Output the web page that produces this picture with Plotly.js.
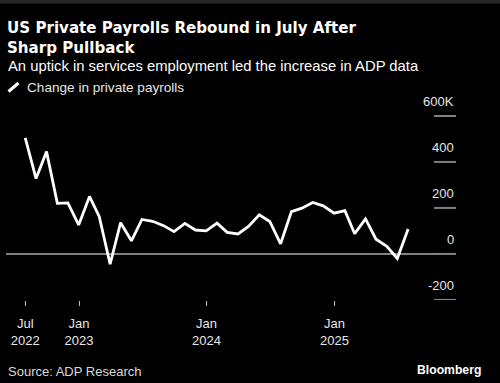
<!DOCTYPE html>
<html>
<head>
<meta charset="utf-8">
<script src="https://cdn.plot.ly/plotly-3.0.1.min.js"></script>
<style>html,body{margin:0;padding:0;background:#000;}#chart{width:500px;height:383px;}</style>
</head>
<body>
<div id="chart"></div>
<script>
// Month-end dates, Jul 2022 - Jul 2025
const dates = [
  '2022-07-31','2022-08-31','2022-09-30','2022-10-31','2022-11-30','2022-12-31',
  '2023-01-31','2023-02-28','2023-03-31','2023-04-30','2023-05-31','2023-06-30',
  '2023-07-31','2023-08-31','2023-09-30','2023-10-31','2023-11-30','2023-12-31',
  '2024-01-31','2024-02-29','2024-03-31','2024-04-30','2024-05-31','2024-06-30',
  '2024-07-31','2024-08-31','2024-09-30','2024-10-31','2024-11-30','2024-12-31',
  '2025-01-31','2025-02-28','2025-03-31','2025-04-30','2025-05-31','2025-06-30',
  '2025-07-31'
];
// Change in private payrolls (thousands)
const payrolls = [
  505, 328, 445, 220, 222, 126,
  250, 162, -45, 136, 57, 150,
  142, 123, 97, 133, 104, 100,
  134, 94, 87, 120, 170, 141,
  44, 184, 199, 224, 209, 177,
  188, 88, 152, 64, 33, -20,
  108
];
const xTickVals = ['2022-07-31','2023-01-01','2024-01-01','2025-01-01'];
const xTickMonths = ['Jul','Jan','Jan','Jan'];
const xTickYears = ['2022','2023','2024','2025'];
const yTickVals = [-200, 0, 200, 400, 600];
const yTickText = ['-200', '0', '200', '400', '600K'];

const W = 500, H = 383;
const mL = 6, mR = 44, mT = 90, mB = 83;
const pw = W - mL - mR, ph = H - mT - mB;
const px = x => (x - mL) / pw;
const py = y => (H - mB - y) / ph;
const tickFont = {family: 'Liberation Sans, Arial', size: 13, color: '#e6e6e6'};

const trace = {
  x: dates, y: payrolls, type: 'scatter', mode: 'lines',
  name: 'Change in private payrolls',
  line: {color: '#ffffff', width: 2.8},
  hoverinfo: 'skip'
};

// y tick labels sit above short tick dashes at the right edge
const yLabelAnnotations = yTickVals.map((v, i) => ({
  text: yTickText[i], xref: 'paper', yref: 'y', x: 1, y: v,
  xanchor: 'right', yanchor: 'middle', yshift: 14,
  showarrow: false, font: tickFont
}));
const yTickDashes = yTickVals.map(v => ({
  type: 'line', xref: 'paper', yref: 'y',
  x0: px(434), x1: 1, y0: v, y1: v,
  line: {color: '#808080', width: 2}
}));

const layout = {
  width: W, height: H,
  paper_bgcolor: '#000000', plot_bgcolor: '#000000',
  margin: {l: mL, r: mR, t: mT, b: mB, pad: 0},
  showlegend: false,
  hovermode: false,
  title: {
    text: '<b>US Private Payrolls Rebound in July After<br>Sharp Pullback</b>',
    font: {family: 'DejaVu Sans', size: 15.1, color: '#ffffff'},
    xref: 'container', yref: 'container',
    x: 7 / W, xanchor: 'left',
    y: 1 - 33 / H, yanchor: 'top'
  },
  xaxis: {
    type: 'date',
    range: ['2022-06-06', '2025-12-15'],
    showgrid: false, zeroline: false, showline: false,
    ticks: 'outside', ticklen: 5, tickwidth: 1, tickcolor: '#bfbfbf',
    tickvals: xTickVals,
    ticktext: xTickMonths.map((m, i) => m + '<br>' + xTickYears[i]),
    tickfont: tickFont,
    ticklabelstandoff: 6
  },
  yaxis: {
    side: 'right',
    range: [-200.4, 713.0],
    showgrid: false, showline: false,
    zeroline: true, zerolinecolor: '#808080', zerolinewidth: 2,
    ticks: '',
    tickvals: yTickVals,
    showticklabels: false
  },
  shapes: [
    {type: 'rect', xref: 'paper', yref: 'paper',
     x0: px(0), x1: px(W), y0: py(3.5), y1: py(0),
     fillcolor: '#262626', line: {width: 0}, layer: 'above'},
    {type: 'line', xref: 'paper', yref: 'paper',
     x0: px(8.5), y0: py(91.5), x1: px(18.5), y1: py(83),
     line: {color: '#ffffff', width: 3}}
  ].concat(yTickDashes),
  annotations: [
    {text: 'An uptick in services employment led the increase in ADP data',
     xref: 'paper', yref: 'paper', x: px(6), y: py(65.5), xanchor: 'left', yanchor: 'middle',
     showarrow: false, font: {family: 'Liberation Sans, Arial', size: 14.8, color: '#ffffff'}},
    {text: 'Change in private payrolls',
     xref: 'paper', yref: 'paper', x: px(25), y: py(87), xanchor: 'left', yanchor: 'middle',
     showarrow: false, font: {family: 'Liberation Sans, Arial', size: 13.6, color: '#e6e6e6'}},
    {text: 'Source: ADP Research',
     xref: 'paper', yref: 'paper', x: px(6), y: py(371.5), xanchor: 'left', yanchor: 'middle',
     showarrow: false, font: {family: 'Liberation Sans, Arial', size: 13, color: '#d9d9d9'}},
    {text: '<b>Bloomberg</b>',
     xref: 'paper', yref: 'paper', x: px(483), y: py(369.5), xanchor: 'right', yanchor: 'middle',
     showarrow: false, font: {family: 'Liberation Sans, Arial', size: 12.2, color: '#ffffff'}}
  ].concat(yLabelAnnotations)
};

Plotly.newPlot('chart', [trace], layout, {staticPlot: true, displayModeBar: false});
</script>
</body>
</html>
